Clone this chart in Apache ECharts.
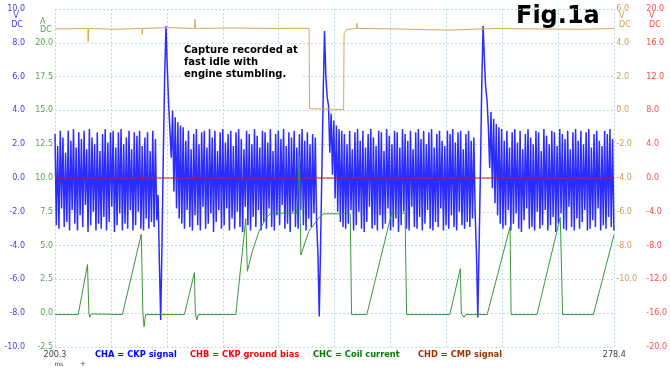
<!DOCTYPE html>
<html>
<head>
<meta charset="utf-8">
<script src="https://cdn.jsdelivr.net/npm/echarts@6/dist/echarts.min.js"></script>
<style>
html,body{margin:0;padding:0;background:#fff;}
#chart{width:670px;height:374px;}
</style>
</head>
<body>
<div id="chart"></div>
<script>
// ---- time base (ms) ----
const tStart = 200.3;
const tEnd = 278.4;
const ckpSampleMs = 0.1845; // scope sample spacing for CHA

// ---- CHA = CKP signal (V), consecutive samples ----
const ckpSegA = [2.6,-2.8,1.9,-3.0,2.8,-1.8,2.4,-2.9,1.5,-2.6,2.8,-3.1,2.2,-1.9,2.9,-2.7,1.8,-3.1,2.7,-2.2,
2.3,-2.9,2.8,-1.6,1.7,-3.2,2.9,-2.8,2.4,-2.0,2.0,-3.1,2.7,-2.7,1.6,-3.0,2.6,-2.3,2.9,-3.1,
2.1,-2.6,2.7,-1.7,2.8,-3.2,1.8,-2.8,2.7,-2.1,2.9,-3.1,2.0,-2.7,2.4,-3.0,2.8,-1.9,1.7,-3.1,
2.7,-2.8,2.5,-2.0,2.8,-3.0,1.9,-3.1,2.4,-2.4,2.7,-3.0,1.6,-2.6,2.8,-2.9,2.3,-2.5];
const ckpSpike1 = [-1.0,-5.0,-8.4,-3.8,1.5,6.0,9.0,6.5,4.4,4.3];
const ckpSegB = [1.2,4.0,-0.8,3.6,-1.8,3.3,-2.4,3.1,-2.7,3.0,
-3.0,2.2,-1.9,2.8,-2.9,1.7,-3.1,2.6,-2.2,2.9,-2.8,2.0,-3.1,2.7,-1.7,2.8,-3.0,1.8,-2.7,2.9,
-2.1,2.4,-3.2,2.8,-2.6,1.6,-1.9,2.7,-3.0,2.9,-2.8,2.1,-1.8,2.6,-3.1,2.8,-2.4,1.9,-3.0,2.7,
-2.0,2.9,-2.9,2.3,-3.2,1.7,-1.7,2.8,-2.8,2.6,-3.1,2.0,-2.3,2.9,-2.9,2.5,-1.9,1.8,-3.1,2.8,
-2.6,2.7,-3.0,2.1,-1.8,2.9,-2.9,1.6,-3.1,2.6,-2.2,2.8,-2.8,2.3,-1.6,2.9,-3.0,1.9,-2.7,2.7,
-3.2,2.4,-2.0,2.8,-2.9,1.8,-3.0,2.6,-1.9,2.9,-2.8,2.2,-3.1,2.7,-2.4,2.0,-2.9,2.6,-2.1,2.4,
-2.6];
const ckpSpike2 = [-4.5,-8.2,-4.0,0.5,5.0,8.7,6.0,4.8,4.3,1.5,3.8,0.2];
const ckpSegC = [3.4,-1.2,3.1,-2.0,2.9,-2.6,2.8,-2.9,2.6,-3.0,
2.0,-2.7,2.8,-1.9,1.7,-3.1,2.7,-2.8,2.9,-2.0,2.2,-3.0,2.8,-3.2,1.8,-2.6,2.6,-1.7,2.9,-3.0,
2.4,-2.8,1.9,-3.1,2.8,-2.2,2.7,-3.0,1.6,-2.7,2.9,-1.8,2.5,-3.1,2.0,-2.9,2.8,-2.4,2.7,-3.2,
1.8,-2.8,2.9,-2.0,2.6,-3.0,2.2,-3.1,2.8,-1.7,1.7,-2.9,2.7,-3.0,2.9,-2.3,2.3,-3.1,2.8,-2.7,
2.0,-1.9,2.7,-3.0,2.9,-3.1,1.8,-2.6,2.6,-2.9,2.8,-1.8,2.2,-3.1,1.9,-2.8,2.8,-3.0,2.6,-2.2,
2.9,-2.9,2.1,-3.1,2.7,-2.0,2.8,-2.8,1.7,-3.0,2.6,-2.6,2.8,-2.9,2.2,-2.4,2.4,-2.1];
const ckpSpike3 = [-4.5,-8.25,-4.0,0.5,5.5,9.0,7.0,5.3,4.6,3.0,0.6];
const ckpSegD = [3.9,-0.6,3.5,-1.5,3.2,-2.2,3.0,-2.7,2.9,-3.0,
2.2,-2.8,2.8,-1.9,1.8,-3.1,2.7,-2.7,2.9,-2.1,2.1,-3.0,2.8,-3.2,1.7,-2.5,2.6,-1.8,2.9,-3.0,
2.4,-2.9,2.0,-3.1,2.8,-2.0,2.7,-3.0,1.6,-2.8,2.9,-1.9,2.5,-3.1,2.0,-2.8,2.8,-2.3,2.7,-3.2,
1.9,-2.7,2.9,-2.1,2.6,-3.0,2.3,-3.1,2.8,-1.7,1.7,-2.9,2.7,-3.1,2.9,-2.4,2.2,-3.0,2.8,-2.6,
2.0,-1.9,2.7,-3.1,2.9,-3.0,1.8,-2.5,2.6,-2.9,2.8,-1.8,2.2,-3.1,1.9,-2.8,2.8,-3.0,2.6,-2.3,
2.9,-2.9,2.3,-3.1];

// ---- CHB = CKP ground bias (V): [time ms, value] ----
const biasTimes  = [200.3, 212.43, 212.47, 212.52, 219.80, 219.85, 219.90, 278.4];
const biasValues = [0, 0, 0.25, 0, 0, 0.25, 0, 0];

// ---- CHC = Coil current (A): [time ms, value] ----
const coilTimes = [200.30,203.54,204.84,205.03,205.16,205.37,209.71,212.35,212.57,212.74,212.95,218.37,219.76,219.90,220.10,220.31,
225.55,226.94,227.16,227.86,228.79,229.72,230.42,234.07,234.42,234.63,235.74,237.13,237.82,241.53,241.71,243.84,
247.31,249.18,249.40,255.43,256.90,257.04,257.42,257.69,260.65,263.85,263.99,267.60,270.86,271.18,275.48,278.36];
const coilValues = [-0.1,-0.1,3.6,0,-0.3,-0.05,-0.1,5.85,0,-1.0,-0.1,-0.1,3.0,0,-0.5,-0.1,
-0.1,7.0,3.1,4.6,6.05,7.0,7.4,7.4,11.6,4.3,6.05,7.05,7.35,7.35,-0.1,-0.1,
7.4,7.4,-0.1,-0.1,3.3,0,-0.3,-0.1,-0.1,6.4,-0.1,-0.1,7.1,-0.1,-0.1,5.8];

// ---- CHD = CMP signal (V): [time ms, value] ----
const cmpTimes = [200.3,204.89,204.93,205.0,208.5,212.43,212.49,212.56,216.0,219.80,219.85,219.92,225.0,230.0,235.78,235.85,
240.60,240.67,241.0,242.41,242.45,242.52,248.0,255.0,262.0,268.0,274.0,278.4];
const cmpValues = [4.82,4.85,4.05,4.85,4.8,4.85,4.5,4.85,4.9,4.85,5.4,4.85,4.88,4.85,4.85,0.1,
0.05,4.55,4.78,4.85,5.15,4.85,4.82,4.75,4.85,4.82,4.8,4.85];

// ---- axis tick settings ----
const timeDivMs = 7.81;
const chaTicks = {min:-10, max:10, step:2};
const chcTicks = {min:-2.5, max:22.5, step:2.5};
const chdTicks = {min:-14, max:6, step:2};
const chbTicks = {min:-20, max:20, step:4};
const legendLabels = ['CHA = CKP signal','CHB = CKP ground bias','CHC = Coil current','CHD = CMP signal'];
const noteLines = ['Capture recorded at','fast idle with','engine stumbling.'];
const figTitle = 'Fig.1a';

// ---- build ----
const ckpAll = [].concat(ckpSegA, ckpSpike1, ckpSegB, ckpSpike2, ckpSegC, ckpSpike3, ckpSegD);
const rel = t => +(t - tStart).toFixed(4);
const ckpData = ckpAll.map((v,i)=>[+(i*ckpSampleMs).toFixed(4), v]);
const pairs = (ts, vs) => ts.map((t,i)=>[rel(t), vs[i]]);

const gridLine = {show:true, lineStyle:{color:'#bcdcec', type:[2,2], width:1}};
const FONT = 'DejaVu Sans';
function yAx(tk, pos, color, margin, fmt, split){
  return {type:'value', position:pos, min:tk.min, max:tk.max, interval:tk.step,
    axisLine:{show:false}, axisTick:{show:false},
    splitLine: split ? gridLine : {show:false},
    axisLabel:{color:color, fontSize:8, fontFamily:FONT, margin:margin, showMinLabel:true, showMaxLabel:true,
      formatter: fmt}};
}
const f1 = v => v.toFixed(1);

const chart = echarts.init(document.getElementById('chart'));
const unitStyle = (c)=>({fill:c, fontSize:8, fontFamily:FONT});
const keyStyle = (c)=>({verticalAlign:'middle', fill:c, fontSize:8.3, fontWeight:'bold', fontFamily:FONT});
chart.setOption({
  animation:false,
  backgroundColor:'#ffffff',
  grid:{left:55, right:53, top:9, bottom:27},
  xAxis:{type:'value', min:0, max:+(tEnd-tStart).toFixed(2), interval:timeDivMs,
    axisLine:{show:false}, axisTick:{show:false}, splitLine:gridLine,
    axisLabel:{color:'#404040', fontSize:8, fontFamily:FONT, margin:4, showMinLabel:true, showMaxLabel:true,
      formatter:(v)=> v < 0.01 ? tStart.toFixed(1) : (Math.abs(v-(tEnd-tStart))<0.05 ? tEnd.toFixed(1) : '')}},
  yAxis:[
    yAx(chaTicks,'left','#3c3cf0',30,f1,true),
    yAx(chcTicks,'left','#5aa05a',2,v=> v>22 ? '' : f1(v),false),
    yAx(chdTicks,'right','#d0a050',2,v=> v<-10.5 ? '' : f1(v),false),
    yAx(chbTicks,'right','#ff4a4a',32,f1,false)
  ],
  series:[
    {name:legendLabels[0], type:'line', yAxisIndex:0, data:ckpData, symbol:'none',
      lineStyle:{color:'#2c2cff', width:1.5}, z:2},
    {name:legendLabels[1], type:'line', yAxisIndex:3, data:pairs(biasTimes,biasValues), symbol:'none',
      lineStyle:{color:'#e01010', width:1}, z:3},
    {name:legendLabels[2], type:'line', yAxisIndex:1, data:pairs(coilTimes,coilValues), symbol:'none',
      lineStyle:{color:'#3c963c', width:1}, z:4},
    {name:legendLabels[3], type:'line', yAxisIndex:2, data:pairs(cmpTimes,cmpValues), symbol:'none',
      lineStyle:{color:'#d4aa5a', width:1}, z:5}
  ],
  graphic:[
    {type:'text', left:516, top:5, style:{text:figTitle, fill:'#000', fontSize:24, fontWeight:'bold', fontFamily:FONT}},
    {type:'rect', shape:{x:181, y:44, width:120, height:37}, style:{fill:'#ffffff'}, z:10},
    {type:'text', x:184, y:44, z:11, style:{text:noteLines.join('\n'), fill:'#000', fontSize:10, fontWeight:'bold', fontFamily:FONT, lineHeight:12}},
    // unit labels
    {type:'text', x:16, y:16, style:Object.assign({text:'V', align:'center', verticalAlign:'middle'}, unitStyle('#3c3cf0'))},
    {type:'text', x:17, y:25, style:Object.assign({text:'DC', align:'center', verticalAlign:'middle'}, unitStyle('#3c3cf0'))},
    {type:'text', x:40, y:22, style:Object.assign({text:'A', align:'left', verticalAlign:'middle'}, unitStyle('#5aa05a'))},
    {type:'text', x:40, y:30, style:Object.assign({text:'DC', align:'left', verticalAlign:'middle'}, unitStyle('#5aa05a'))},
    {type:'text', x:619, y:16, style:Object.assign({text:'V', align:'left', verticalAlign:'middle'}, unitStyle('#d0a050'))},
    {type:'text', x:619, y:25, style:Object.assign({text:'DC', align:'left', verticalAlign:'middle'}, unitStyle('#d0a050'))},
    {type:'text', x:649, y:16, style:Object.assign({text:'V', align:'left', verticalAlign:'middle'}, unitStyle('#ff4a4a'))},
    {type:'text', x:649, y:25, style:Object.assign({text:'DC', align:'left', verticalAlign:'middle'}, unitStyle('#ff4a4a'))},
    {type:'text', x:59, y:364, style:{text:'ms', align:'center', verticalAlign:'middle', fill:'#404040', fontSize:6, fontFamily:FONT}},
    {type:'text', x:83, y:364, style:{text:'+', align:'center', verticalAlign:'middle', fill:'#404040', fontSize:7, fontFamily:FONT}},
    // channel key
    {type:'text', x:95, y:355, style:Object.assign({text:legendLabels[0]}, keyStyle('#0000ff'))},
    {type:'text', x:190, y:355, style:Object.assign({text:legendLabels[1]}, keyStyle('#ff0000'))},
    {type:'text', x:313, y:355, style:Object.assign({text:legendLabels[2]}, keyStyle('#008000'))},
    {type:'text', x:418, y:355, style:Object.assign({text:legendLabels[3]}, keyStyle('#993300'))}
  ]
});
</script>
</body>
</html>
